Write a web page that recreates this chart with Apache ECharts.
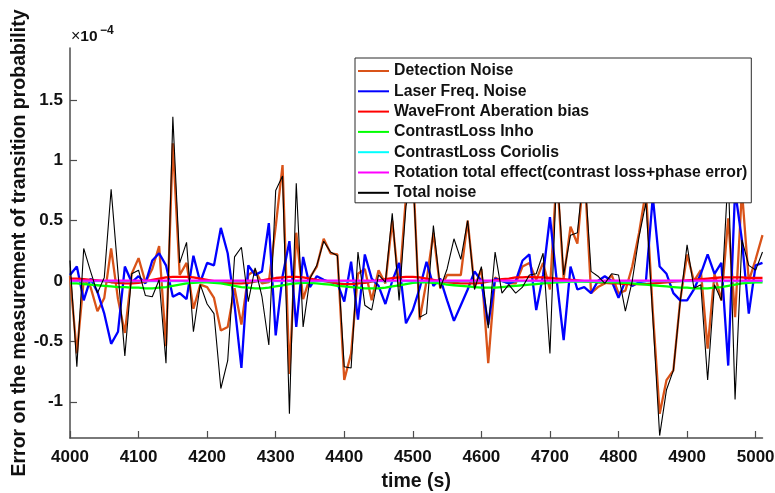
<!DOCTYPE html>
<html>
<head>
<meta charset="utf-8">
<script src="https://cdn.jsdelivr.net/npm/echarts@6/dist/echarts.min.js"></script>
<style>
  html, body { margin: 0; padding: 0; background: #fff; }
  #chart { width: 775px; height: 493px; }
</style>
</head>
<body>
<div id="chart"></div>
<script>
// Sample times (s)
const times = [
  4000, 4010, 4020, 4030, 4040, 4050, 4060, 4070, 4080, 4090,
  4100, 4110, 4120, 4130, 4140, 4150, 4160, 4170, 4180, 4190,
  4200, 4210, 4220, 4230, 4240, 4250, 4260, 4270, 4280, 4290,
  4300, 4310, 4320, 4330, 4340, 4350, 4360, 4370, 4380, 4390,
  4400, 4410, 4420, 4430, 4440, 4450, 4460, 4470, 4480, 4490,
  4500, 4510, 4520, 4530, 4540, 4550, 4560, 4570, 4580, 4590,
  4600, 4610, 4620, 4630, 4640, 4650, 4660, 4670, 4680, 4690,
  4700, 4710, 4720, 4730, 4740, 4750, 4760, 4770, 4780, 4790,
  4800, 4810, 4820, 4830, 4840, 4850, 4860, 4870, 4880, 4890,
  4900, 4910, 4920, 4930, 4940, 4950, 4960, 4970, 4980, 4990,
  5000, 5010
];

// Error contributions, in units of 1e-4
const detectionNoise = [
  0.04, -0.60, 0.01, -0.05, -0.25, -0.14, 0.27, -0.15, -0.43, 0.06,
  0.19, -0.01, 0.10, 0.29, -0.54, 1.14, 0.05, 0.15, -0.23, -0.03,
  -0.05, -0.14, -0.41, -0.38, -0.06, -0.36, 0.05, 0.09, -0.02, -0.01,
  0.45, 0.96, -0.77, 0.40, -0.15, 0.03, 0.12, 0.35, 0.23, 0.22,
  -0.82, -0.60, 0.06, 0.10, -0.16, 0.09, -0.02, 0.50, -0.05, 0.70,
  0.95, -0.32, 0.00, 0.40, -0.06, 0.05, 0.05, 0.05, 0.50, -0.05,
  0.10, -0.68, 0.03, 0.00, -0.02, -0.02, 0.12, 0.15, 0.01, 0.15,
  -0.07, 0.90, 0.02, 0.45, 0.31, 0.95, -0.10, -0.05, -0.02, 0.05,
  -0.10, -0.08, 0.12, 0.40, 0.75, -0.25, -1.10, -0.82, -0.74, -0.16,
  0.22, 0.00, 0.09, -0.56, 0.06, -0.16, 0.52, -0.30, 0.75, 0.00,
  0.18, 0.38
];

const laserFreqNoise = [
  0.05, 0.12, -0.16, 0.02, -0.09, -0.27, -0.52, -0.42, 0.12, -0.01,
  0.04, -0.02, 0.17, 0.23, 0.13, -0.13, -0.10, -0.15, 0.21, -0.01,
  0.15, 0.13, 0.44, 0.23, -0.20, -0.72, 0.13, 0.05, 0.08, 0.48,
  -0.45, 0.04, 0.33, -0.38, 0.20, -0.05, 0.04, 0.01, -0.01, -0.02,
  -0.17, 0.16, -0.32, 0.22, 0.02, -0.04, -0.19, 0.00, 0.15, -0.35,
  -0.24, -0.06, 0.16, -0.04, 0.02, -0.16, -0.33, -0.20, -0.07, 0.08,
  0.00, -0.36, 0.02, 0.00, -0.02, 0.00, 0.17, 0.22, -0.24, 0.05,
  0.53, 0.00, -0.49, 0.12, -0.07, -0.05, -0.10, 0.00, 0.04, 0.00,
  -0.14, 0.00, -0.04, -0.01, 0.00, 0.70, 0.12, 0.06, -0.10, -0.16,
  -0.16, -0.07, 0.06, 0.22, 0.06, 0.15, -0.70, 0.75, 0.34, -0.27,
  0.13, 0.15
];

const waveFrontBias = [
  0.02, 0.02, 0.015, 0.01, 0.005, 0.0, -0.01, -0.015, -0.02, -0.02,
  -0.015, -0.005, 0.01, 0.02, 0.03, 0.035, 0.035, 0.035, 0.03, 0.02,
  0.01, 0.0, -0.01, -0.015, -0.02, -0.02, -0.015, -0.005, 0.005, 0.015,
  0.025, 0.03, 0.035, 0.035, 0.03, 0.02, 0.01, 0.0, -0.01, -0.02,
  -0.025, -0.025, -0.02, -0.015, -0.005, 0.005, 0.015, 0.025, 0.03, 0.035,
  0.035, 0.03, 0.02, 0.01, 0.0, -0.01, -0.015, -0.02, -0.02, -0.02,
  -0.015, -0.005, 0.005, 0.015, 0.02, 0.03, 0.03, 0.035, 0.03, 0.03,
  0.025, 0.02, 0.015, 0.01, 0.005, 0.0, -0.005, -0.01, -0.015, -0.02,
  -0.02, -0.025, -0.025, -0.025, -0.025, -0.02, -0.015, -0.01, -0.005, 0.0,
  0.005, 0.01, 0.015, 0.02, 0.025, 0.03, 0.03, 0.03, 0.03, 0.025,
  0.025, 0.025
];

const contrastLossInho = [
  -0.02, -0.02, -0.025, -0.03, -0.035, -0.04, -0.045, -0.05, -0.05, -0.055,
  -0.055, -0.06, -0.06, -0.055, -0.05, -0.04, -0.03, -0.02, -0.015, -0.01,
  -0.01, -0.015, -0.02, -0.03, -0.04, -0.05, -0.055, -0.06, -0.06, -0.055,
  -0.045, -0.035, -0.025, -0.02, -0.015, -0.015, -0.02, -0.025, -0.03, -0.04,
  -0.045, -0.05, -0.055, -0.06, -0.06, -0.06, -0.055, -0.045, -0.035, -0.025,
  -0.015, -0.01, -0.01, -0.015, -0.02, -0.03, -0.035, -0.04, -0.045, -0.05,
  -0.055, -0.055, -0.055, -0.05, -0.045, -0.04, -0.035, -0.03, -0.025, -0.02,
  -0.015, -0.01, -0.008, -0.005, -0.005, -0.005, -0.005, -0.008, -0.01, -0.01,
  -0.012, -0.015, -0.02, -0.025, -0.03, -0.035, -0.04, -0.045, -0.05, -0.055,
  -0.055, -0.06, -0.06, -0.06, -0.055, -0.05, -0.04, -0.03, -0.02, -0.015,
  -0.01, -0.01
];

const contrastLossCoriolis = [
  0, 0, 0, 0, 0, 0, 0, 0, 0, 0,
  0, 0, 0, 0, 0, 0, 0, 0, 0, 0,
  0, 0, 0, 0, 0, 0, 0, 0, 0, 0,
  0, 0, 0, 0, 0, 0, 0, 0, 0, 0,
  0, 0, 0, 0, 0, 0, 0, 0, 0, 0,
  0, 0, 0, 0, 0, 0, 0, 0, 0, 0,
  0, 0, 0, 0, 0, 0, 0, 0, 0, 0,
  0, 0, 0, 0, 0, 0, 0, 0, 0, 0,
  0, 0, 0, 0, 0, 0, 0, 0, 0, 0,
  0, 0, 0, 0, 0, 0, 0, 0, 0, 0,
  0, 0
];

const rotationTotal = [
  0.004, 0.004, 0.004, 0.004, 0.004, 0.004, 0.004, 0.004, 0.004, 0.004,
  0.004, 0.004, 0.004, 0.004, 0.004, 0.004, 0.004, 0.004, 0.004, 0.004,
  0.004, 0.004, 0.004, 0.004, 0.004, 0.004, 0.004, 0.004, 0.004, 0.004,
  0.004, 0.004, 0.004, 0.004, 0.004, 0.004, 0.004, 0.004, 0.004, 0.004,
  0.004, 0.004, 0.004, 0.004, 0.004, 0.004, 0.004, 0.004, 0.004, 0.004,
  0.004, 0.004, 0.004, 0.004, 0.004, 0.004, 0.004, 0.004, 0.004, 0.004,
  0.004, 0.004, 0.004, 0.004, 0.004, 0.004, 0.004, 0.004, 0.004, 0.004,
  0.004, 0.004, 0.004, 0.004, 0.004, 0.004, 0.004, 0.004, 0.004, 0.004,
  0.004, 0.004, 0.004, 0.004, 0.004, 0.004, 0.004, 0.004, 0.004, 0.004,
  0.004, 0.004, 0.004, 0.004, 0.004, 0.004, 0.004, 0.004, 0.004, 0.004,
  0.004, 0.004
];

const totalNoise = [
  0.17, -0.71, 0.27, 0.08, -0.10, 0.03, 0.76, 0.07, -0.62, 0.06,
  0.09, -0.12, -0.13, 0.01, -0.68, 1.36, 0.15, 0.32, -0.42, -0.03,
  -0.19, -0.27, -0.89, -0.66, 0.20, 0.28, -0.17, 0.11, -0.13, -0.53,
  0.75, 0.87, -1.10, 0.81, -0.38, 0.02, 0.13, 0.33, 0.24, 0.21,
  -0.71, -0.72, 0.24, -0.20, -0.24, 0.05, -0.01, 0.56, -0.16, 0.62,
  0.90, -0.30, -0.27, 0.46, -0.06, 0.10, 0.35, 0.18, 0.50, -0.07,
  0.12, -0.39, 0.24, -0.10, -0.03, -0.10, -0.05, 0.05, 0.06, 0.23,
  -0.60, 0.95, 0.05, 0.38, 0.40, 0.95, 0.08, 0.04, -0.02, 0.06,
  0.05, -0.25, 0.00, 0.37, 0.65, -0.30, -1.28, -0.90, -0.74, -0.17,
  0.30, -0.06, -0.03, -0.82, -0.03, -0.16, 0.90, -0.98, 0.34, 0.13,
  0.09, 0.24
];

// Axis ticks
const xTicks = [4000, 4100, 4200, 4300, 4400, 4500, 4600, 4700, 4800, 4900, 5000];
const yTicks = [-1, -0.5, 0, 0.5, 1, 1.5];

const FONT = "'Liberation Sans', Arial, Helvetica, sans-serif";
const AXIS_COLOR = '#4d4d4d';
const TEXT_COLOR = '#111';

const seriesDefs = [
  { name: 'Detection Noise', values: detectionNoise, color: '#D95319', width: 2.3 },
  { name: 'Laser Freq. Noise', values: laserFreqNoise, color: '#0000FF', width: 2.3 },
  { name: 'WaveFront Aberation bias', values: waveFrontBias, color: '#FF0000', width: 2.3 },
  { name: 'ContrastLoss Inho', values: contrastLossInho, color: '#00FF00', width: 2.3 },
  { name: 'ContrastLoss Coriolis', values: contrastLossCoriolis, color: '#00FFFF', width: 2.3 },
  { name: 'Rotation total effect(contrast loss+phase error)', values: rotationTotal, color: '#FF00FF', width: 2.3 },
  { name: 'Total noise', values: totalNoise, color: '#000000', width: 1.1 }
];

const chart = echarts.init(document.getElementById('chart'), null, { renderer: 'canvas' });

chart.setOption({
  animation: false,
  backgroundColor: '#ffffff',
  grid: { left: 70, right: 12.5, top: 48, bottom: 55, outerBoundsMode: 'none' },
  xAxis: {
    type: 'value',
    min: 4000,
    max: 5010,
    name: 'time (s)',
    nameLocation: 'middle',
    nameGap: 34,
    nameMoveOverlap: false,
    nameTextStyle: { fontFamily: FONT, fontWeight: 'bold', fontSize: 19.5, color: TEXT_COLOR },
    axisLine: { show: true, onZero: false, lineStyle: { color: AXIS_COLOR, width: 1.5 } },
    axisTick: { show: true, inside: true, length: 7, customValues: xTicks, lineStyle: { color: AXIS_COLOR, width: 1.2 } },
    axisLabel: {
      customValues: xTicks, margin: 11, fontFamily: FONT, fontWeight: 'bold', fontSize: 17, color: TEXT_COLOR,
      formatter: v => String(v)
    },
    splitLine: { show: false }
  },
  yAxis: {
    type: 'value',
    min: -1.3,
    max: 1.93,
    name: 'Error on the measurement of transition probability',
    nameLocation: 'middle',
    nameGap: 40,
    nameMoveOverlap: false,
    nameRotate: 90,
    nameTextStyle: { fontFamily: FONT, fontWeight: 'bold', fontSize: 19.5, color: TEXT_COLOR },
    axisLine: { show: true, onZero: false, lineStyle: { color: AXIS_COLOR, width: 1.5 } },
    axisTick: { show: true, inside: true, length: 7, customValues: yTicks, lineStyle: { color: AXIS_COLOR, width: 1.2 } },
    axisLabel: { customValues: yTicks, margin: 7, fontFamily: FONT, fontWeight: 'bold', fontSize: 17, color: TEXT_COLOR },
    splitLine: { show: false }
  },
  legend: {
    orient: 'vertical',
    left: 355,
    top: 58,
    padding: [5, 4, 2, 3],
    itemWidth: 31,
    itemHeight: 2,
    itemGap: 4.3,
    icon: 'rect',
    selectedMode: false,
    backgroundColor: '#ffffff',
    borderColor: '#2b2b2b',
    borderWidth: 1,
    borderRadius: 0,
    textStyle: { fontFamily: FONT, fontWeight: 'bold', fontSize: 15.8, lineHeight: 16, color: TEXT_COLOR },
    data: seriesDefs.map(s => s.name)
  },
  graphic: [
    {
      type: 'text',
      left: 71,
      top: 29,
      style: {
        text: '{m|×}{d|10}',
        rich: {
          m: { fontFamily: FONT, fontSize: 16, fontWeight: 'normal', fill: TEXT_COLOR },
          d: { fontFamily: FONT, fontSize: 15.5, fontWeight: 'bold', fill: TEXT_COLOR }
        }
      }
    },
    {
      type: 'text',
      left: 100,
      top: 25,
      style: { text: '\u22124', font: 'bold 12px ' + FONT, fill: TEXT_COLOR }
    }
  ],
  series: seriesDefs.map(s => ({
    name: s.name,
    type: 'line',
    data: times.map((t, i) => [t, s.values[i]]),
    symbol: 'none',
    showSymbol: false,
    smooth: false,
    silent: true,
    color: s.color,
    lineStyle: { color: s.color, width: s.width },
    emphasis: { disabled: true }
  }))
});
</script>
</body>
</html>
